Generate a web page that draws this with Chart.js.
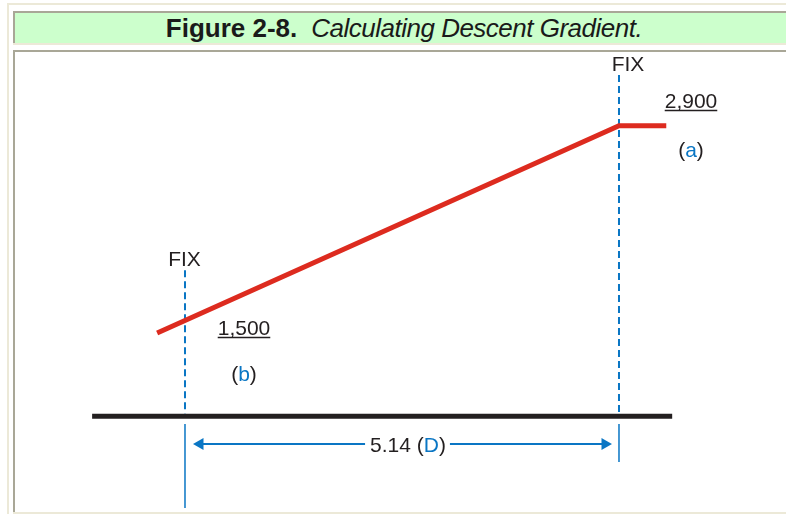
<!DOCTYPE html>
<html>
<head>
<meta charset="utf-8">
<script src="https://cdn.jsdelivr.net/npm/chart.js@4.4.0/dist/chart.umd.min.js"></script>
<style>
  body { margin: 0; background: #fff; width: 786px; height: 514px; overflow: hidden; position: relative; }
  .beige { position: absolute; background: #ECE9D8; }
  #head { position: absolute; left: 13px; top: 11px; width: 764px; padding-left: 7px; height: 30px; background: #CCFFCC;
          border-top: 2px solid #A9A797; border-left: 2px solid #A9A797; text-align: center; white-space: nowrap;
          font-family: 'Liberation Sans', Arial, sans-serif; font-size: 26px; line-height: 31px; color: #1a1a1a; }
  #head b { font-weight: bold; }
  #head i { font-style: italic; margin-left: 14px; letter-spacing: -0.5px; }
  #panel { position: absolute; left: 13px; top: 50px; width: 771px; height: 460px; background: #fff;
           border-top: 2px solid #A9A797; border-left: 2px solid #A9A797; }
  #canvas { position: absolute; left: 0; top: 0; }
</style>
</head>
<body>
<div class="beige" style="left:7px;top:3px;width:779px;height:2px"></div>
<div class="beige" style="left:7px;top:3px;width:2px;height:511px"></div>
<div id="head"><b>Figure 2-8.</b><i>Calculating Descent Gradient.</i></div>
<div class="beige" style="left:13px;top:43px;width:773px;height:2px"></div>
<div id="panel"></div>
<div class="beige" style="left:13px;top:512px;width:773px;height:2px"></div>
<canvas id="canvas" width="786" height="514"></canvas>
<script>
var canvas = document.getElementById('canvas');
var ctx = canvas.getContext('2d');

// distances in NM, altitudes in ft
var fixNames = ['FIX', 'FIX'];
var fixDist = [0, 5.14];
var fixAlt = [1500, 2900];
var fixAltLabels = ['1,500', '2,900'];
var fixTags = ['b', 'a'];
var fixDashTop = [1860, 3265];
var fixTickBottom = [151, 482];

var pathDist = [-0.33, 5.14, 5.7];
var pathAlt = [1410, 2900, 2900];

var groundDist = [-1.1, 5.77];
var groundAlt = 810;

var dimAlt = 611;
var dimLabel = ['5.14 (', 'D', ')'];

var blue = '#0A76C4';
var red = '#DD2B1F';
var ink = '#231F20';

function pts(xs, ys) {
  var out = [];
  for (var i = 0; i < xs.length; i++) out.push({ x: xs[i], y: ys[i] });
  return out;
}

var datasets = [];
// descent path
datasets.push({ data: pts(pathDist, pathAlt), borderColor: red, borderWidth: 5, order: 1 });
// ground
datasets.push({ data: pts(groundDist, [groundAlt, groundAlt]), borderColor: ink, borderWidth: 5, order: 2 });
// fix lines
for (var i = 0; i < fixDist.length; i++) {
  datasets.push({ data: pts([fixDist[i], fixDist[i]], [fixDashTop[i], groundAlt + 20]),
    borderColor: blue, borderWidth: 2, borderDash: [7, 4], order: 5 });
  datasets.push({ data: pts([fixDist[i], fixDist[i]], [groundAlt - 55, fixTickBottom[i]]),
    borderColor: blue, borderWidth: 1.5, order: 5 });
}
// distance arrow
datasets.push({ data: pts([fixDist[0] + 0.178, fixDist[1] - 0.166], [dimAlt, dimAlt]),
  borderColor: blue, borderWidth: 2, order: 4,
  pointStyle: 'triangle', pointRadius: 7, pointRotation: [-90, 90],
  pointBackgroundColor: blue, pointBorderColor: blue, pointBorderWidth: 0 });

datasets.forEach(function (d) {
  d.showLine = true;
  if (d.pointRadius === undefined) d.pointRadius = 0;
  d.borderCapStyle = 'butt';
  d.borderJoinStyle = 'miter';
});

function richText(c, parts, cx, by) {
  var w = 0;
  parts.forEach(function (p) { w += c.measureText(p[0]).width; });
  var x = cx - w / 2;
  parts.forEach(function (p) {
    c.fillStyle = p[1];
    c.fillText(p[0], x, by);
    x += c.measureText(p[0]).width;
  });
  return w;
}

var labelPlugin = {
  id: 'labels',
  afterDatasetsDraw: function (chart) {
    var c = chart.ctx;
    var xs = chart.scales.x, ys = chart.scales.y;
    var nameDx = [-0.5, 9], altDx = [59, 72], altDy = [14.6, -17.7], tagDy = [61, 30.8];
    c.save();
    c.font = '21px "Liberation Sans", Arial, sans-serif';
    c.textBaseline = 'alphabetic';
    c.textAlign = 'left';
    for (var i = 0; i < fixDist.length; i++) {
      var px = xs.getPixelForValue(fixDist[i]);
      var py = ys.getPixelForValue(fixAlt[i]);
      var topY = ys.getPixelForValue(fixDashTop[i]);
      richText(c, [[fixNames[i], ink]], px + nameDx[i], topY - 4);
      var w = richText(c, [[fixAltLabels[i], ink]], px + altDx[i], py + altDy[i]);
      c.strokeStyle = ink;
      c.lineWidth = 1.5;
      c.beginPath();
      c.moveTo(px + altDx[i] - w / 2, py + altDy[i] + 2.5);
      c.lineTo(px + altDx[i] + w / 2, py + altDy[i] + 2.5);
      c.stroke();
      richText(c, [['(', ink], [fixTags[i], blue], [')', ink]], px + altDx[i], py + tagDy[i]);
    }
    // distance label on the arrow
    var mx = (xs.getPixelForValue(fixDist[0]) + xs.getPixelForValue(fixDist[1])) / 2 + 6;
    var my = ys.getPixelForValue(dimAlt);
    var tw = 0;
    dimLabel.forEach(function (s) { tw += c.measureText(s).width; });
    c.fillStyle = '#fff';
    c.fillRect(mx - tw / 2 - 5, my - 4, tw + 9, 8);
    richText(c, [[dimLabel[0], ink], [dimLabel[1], blue], [dimLabel[2], ink]], mx, my + 8);
    c.restore();
  }
};

var chart1 = new Chart(ctx, {
  type: 'scatter',
  data: { datasets: datasets },
  options: {
    responsive: false,
    animation: false,
    layout: { padding: 0, autoPadding: false },
    scales: {
      x: { type: 'linear', display: false, min: -2.191, max: 7.118 },
      y: { type: 'linear', display: false, min: 108, max: 3804 }
    },
    plugins: {
      legend: { display: false },
      tooltip: { enabled: false }
    }
  },
  plugins: [labelPlugin]
});
</script>
</body>
</html>
